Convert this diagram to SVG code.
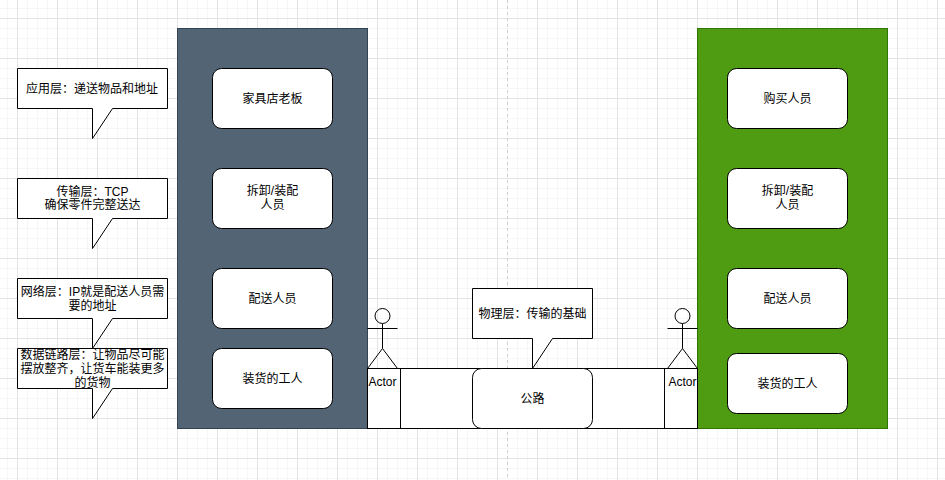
<svg xmlns="http://www.w3.org/2000/svg" width="945" height="480" viewBox="0 0 945 480">
<style>
text{font-family:"Liberation Sans","Noto Sans CJK SC",sans-serif;font-size:12px;fill:#000;text-anchor:middle}
.s{fill:#fff;stroke:#000;stroke-width:1}
.n{fill:none;stroke:#000;stroke-width:1}
</style>
<defs>
<pattern id="g" patternUnits="userSpaceOnUse" x="17" y="18" width="40" height="40">
<path d="M10.500 0V40M20.500 0V40M30.500 0V40M0 10.500H40M0 20.500H40M0 30.500H40" fill="none" stroke="#f6f6f6"/>
<path d="M.5 0V40M0 .5H40" fill="none" stroke="#e3e3e3"/>
</pattern>
<g id="actor-shape">
<circle cx="0" cy="-52.500" r="7.500" class="n"/>
<path d="M0 -45V-20M-15 -40H15M0 -20L-15 0M0 -20L15 0" class="n"/>
</g>
</defs>
<rect width="945" height="480" fill="#fff"/>
<rect width="945" height="480" fill="url(#g)"/>
<path d="M507.500 0V480" stroke="#d0d0d0" stroke-dasharray="3 3" fill="none"/>
<g id="connectors"></g>
<g id="layer-left"><rect x="177.500" y="28.500" width="190" height="400" fill="#536475" stroke="#314354"/></g>
<g id="layer-right"><rect x="697.500" y="28.500" width="190" height="400" fill="#4f9c12" stroke="#2d7600"/></g>
<g id="road"><rect class="s" x="367.500" y="368.500" width="330" height="60"/></g>
<g id="n1"><rect class="s" x="212.500" y="68.500" width="120" height="60" rx="9"/><text x="272.500" y="103">家具店老板</text></g>
<g id="n2"><rect class="s" x="212.500" y="168.500" width="120" height="60" rx="9"/><text x="272.500" y="195">拆卸/装配</text><text x="272.500" y="209">人员</text></g>
<g id="n3"><rect class="s" x="212.500" y="268.500" width="120" height="60" rx="9"/><text x="272.500" y="303">配送人员</text></g>
<g id="n4"><rect class="s" x="212.500" y="348.500" width="120" height="60" rx="9"/><text x="272.500" y="383">装货的工人</text></g>
<g id="n5"><rect class="s" x="727.500" y="68.500" width="120" height="60" rx="9"/><text x="787.500" y="103">购买人员</text></g>
<g id="n6"><rect class="s" x="727.500" y="168.500" width="120" height="60" rx="9"/><text x="787.500" y="195">拆卸/装配</text><text x="787.500" y="209">人员</text></g>
<g id="n7"><rect class="s" x="727.500" y="268.500" width="120" height="60" rx="9"/><text x="787.500" y="303">配送人员</text></g>
<g id="n8"><rect class="s" x="727.500" y="353.500" width="120" height="60" rx="9"/><text x="787.500" y="388">装货的工人</text></g>
<g id="road-label"><rect class="s" x="472.500" y="368.500" width="120" height="60" rx="9"/><text x="532.500" y="403">公路</text></g>
<g id="actor-left"><use href="#actor-shape" x="382.500" y="368.500"/><rect class="n" x="367.500" y="368.500" width="33" height="60"/><text x="382.500" y="386">Actor</text></g>
<g id="actor-right"><use href="#actor-shape" x="682.500" y="368.500"/><rect class="n" x="664.500" y="368.500" width="33" height="60"/><text x="682.500" y="386">Actor</text></g>
<g id="c1"><path class="s" d="M17.500 68.500H167.500V108.500H112.500L92.500 138.500V108.500H17.500Z"/><text x="92" y="93">应用层：递送物品和地址</text></g>
<g id="c2"><path class="s" d="M17.500 178.500H167.500V218.500H112.500L92.500 248.500V218.500H17.500Z"/><text x="92.500" y="196">传输层：TCP</text><text x="92.500" y="209">确保零件完整送达</text></g>
<g id="c3"><path class="s" d="M17.500 278.500H167.500V318.500H112.500L92.500 348.500V318.500H17.500Z"/><text x="92.500" y="296">网络层：IP就是配送人员需</text><text x="92.500" y="310">要的地址</text></g>
<g id="c4"><path class="s" d="M17.500 348.500H167.500V388.500H112.500L92.500 418.500V388.500H17.500Z"/><text x="92.500" y="359">数据链路层：让物品尽可能</text><text x="92.500" y="373">摆放整齐，让货车能装更多</text><text x="92.500" y="387">的货物</text></g>
<g id="c5"><path class="s" d="M472.500 288.500H592.500V338.500H552.500L532.500 368.500V338.500H472.500Z"/><text x="532.500" y="318">物理层：传输的基础</text></g>
</svg>
